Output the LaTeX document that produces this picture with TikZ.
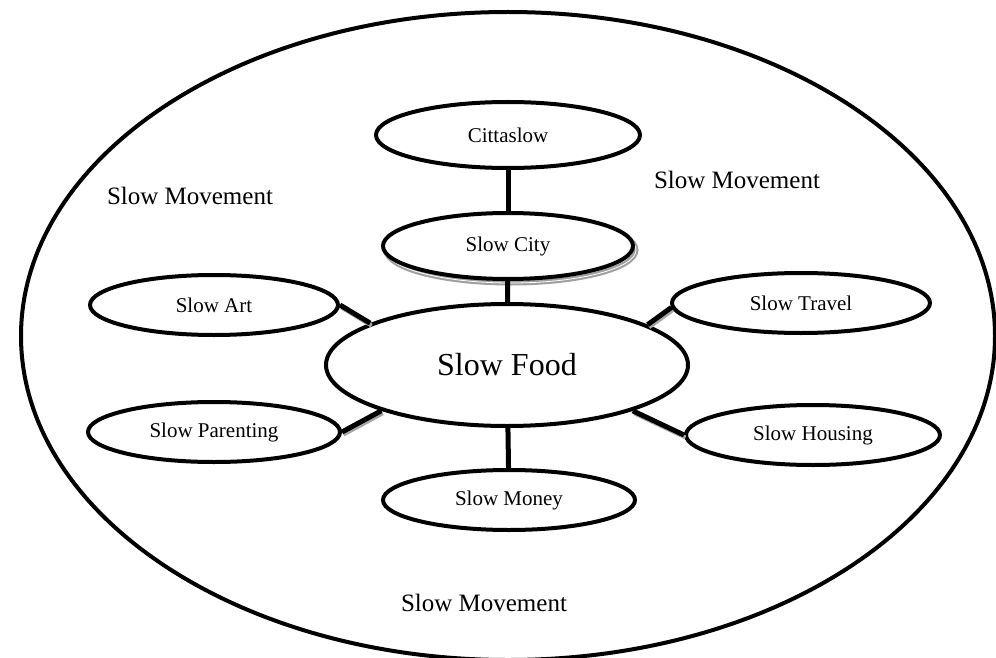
\documentclass[tikz,border=0pt]{standalone}
\usepackage{fontspec}
\setmainfont{Liberation Serif}
\usetikzlibrary{shapes.geometric}
\tikzset{
  bubble/.style={draw, ellipse, line width=4pt, fill=white, inner sep=0pt, font=\fontsize{21}{25}\selectfont},
  link/.style={line width=5pt, black},
  linkshadow/.style={line width=4pt, gray!70},
  movement/.style={font=\fontsize{25}{30}\selectfont, inner sep=0pt}
}
\begin{document}
\begin{tikzpicture}[x=1pt,y=-1pt]
\useasboundingbox (0,0) rectangle (996,658);
\begin{scope}
\clip (0,0) rectangle (996,658);
\draw[line width=4pt] (508,336) ellipse [x radius=487, y radius=324];
\end{scope}
\node[movement] (m1) at (190,196) {Slow Movement};
\node[movement] (m2) at (737,180) {Slow Movement};
\node[movement] (m3) at (484,603) {Slow Movement};
% shadow of Slow City
\draw[line width=5pt, gray!75] (511,250) ellipse [x radius=125, y radius=33];
\draw[line width=0.8pt, white] (511,250) ellipse [x radius=125, y radius=33];
\node[bubble, minimum width=264pt, minimum height=66pt] (cittaslow) at (508,135) {Cittaslow};
\node[bubble, minimum width=250pt, minimum height=66pt] (city) at (508,246) {Slow City};
\node[bubble, minimum width=362pt, minimum height=122pt, font=\fontsize{32}{38}\selectfont] (food) at (507,365) {Slow Food};
\node[bubble, minimum width=248pt, minimum height=60pt] (art) at (214,305) {Slow Art};
\node[bubble, minimum width=258pt, minimum height=60pt] (travel) at (801,303) {Slow Travel};
\node[bubble, minimum width=252pt, minimum height=60pt] (parenting) at (214,432) {Slow Parenting};
\node[bubble, minimum width=254pt, minimum height=60pt] (housing) at (813,435) {Slow Housing};
\node[bubble, minimum width=252pt, minimum height=60pt] (money) at (509,500) {Slow Money};
% connectors
\draw[link] (cittaslow) -- (city);
\draw[link] (city) -- (food);
\draw[link] (food) -- (money);
\begin{scope}[transform canvas={shift={(1.5pt,-2.5pt)}}]
\draw[linkshadow] (art.east) -- (food.163);
\draw[linkshadow] (travel.182) -- (food.16);
\draw[linkshadow] (housing.west) -- (food.340);
\draw[linkshadow] (parenting.east) -- (food.200);
\end{scope}
\draw[link] (art.east) -- (food.163);
\draw[link] (travel.182) -- (food.16);
\draw[link] (housing.west) -- (food.340);
\draw[link] (parenting.east) -- (food.200);
\end{tikzpicture}
\end{document}
